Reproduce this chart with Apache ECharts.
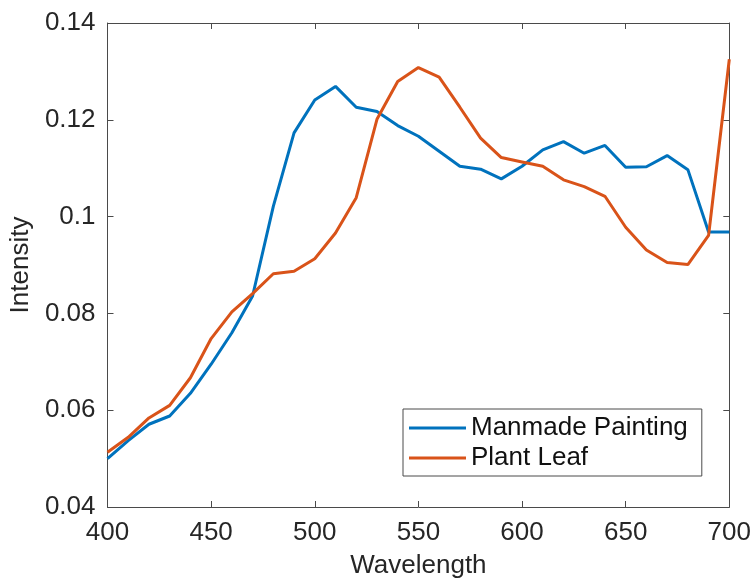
<!DOCTYPE html>
<html>
<head>
<meta charset="utf-8">
<script src="https://cdn.jsdelivr.net/npm/echarts@6/dist/echarts.min.js"></script>
<style>
html,body{margin:0;padding:0;background:#fff;}
#chart{width:754px;height:584px;}
</style>
</head>
<body>
<div id="chart"></div>
<script>
var wavelengths = [400,410,420,430,440,450,460,470,480,490,500,510,520,530,540,550,560,570,580,590,600,610,620,630,640,650,660,670,680,690,700];
var manmadePainting = [0.0500,0.0537,0.0571,0.0588,0.0635,0.0695,0.0760,0.0836,0.1021,0.1173,0.1241,0.1269,0.1226,0.1217,0.1188,0.1166,0.1135,0.1104,0.1098,0.1078,0.1104,0.1138,0.1155,0.1131,0.1147,0.1102,0.1103,0.1126,0.1097,0.0968,0.0968];
var plantLeaf = [0.0513,0.0544,0.0584,0.0610,0.0667,0.0748,0.0803,0.0841,0.0882,0.0887,0.0913,0.0966,0.1039,0.1201,0.1279,0.1308,0.1288,0.1226,0.1162,0.1122,0.1113,0.1104,0.1076,0.1062,0.1042,0.0978,0.0931,0.0905,0.0901,0.0961,0.1325];
var seriesNames = ['Manmade Painting','Plant Leaf'];
var xTicks = [400,450,500,550,600,650,700];
var yTicks = [0.04,0.06,0.08,0.1,0.12,0.14];

var FONT = '"Liberation Sans", Arial, Helvetica, sans-serif';
var TXT = '#262626';
var AX = '#4a4a4a';

function pairs(xs, ys){ return xs.map(function(x,i){ return [x, ys[i]]; }); }

var chart = echarts.init(document.getElementById('chart'), null, {renderer:'canvas'});
var axisCommon = {
  axisLine:{show:true, lineStyle:{color:AX, width:1}},
  axisTick:{show:true, inside:true, length:6, lineStyle:{color:AX, width:1}},
  splitLine:{show:false}
};
chart.setOption({
  animation:false,
  backgroundColor:'#fff',
  textStyle:{fontFamily:FONT},
  grid:{left:105, right:24, top:23, bottom:76, containLabel:false},
  legend:{
    data:seriesNames,
    orient:'vertical',
    left:403, top:409,
    backgroundColor:'#fff',
    borderColor:AX, borderWidth:1,
    padding:[6,14,5,6],
    itemWidth:57, itemHeight:3, itemGap:4,
    icon:'rect',
    textStyle:{fontFamily:FONT, fontSize:26, color:'#111', lineHeight:26, padding:[0,0,0,0]}
  },
  xAxis:[Object.assign({
    type:'value', min:400, max:700, interval:50, position:'bottom',
    name:'Wavelength', nameLocation:'middle', nameGap:46,
    nameTextStyle:{fontFamily:FONT, fontSize:26, color:TXT},
    axisLabel:{fontFamily:FONT, fontSize:26, color:TXT, margin:13,
      formatter:function(v){ return xTicks.indexOf(v)>=0 ? String(v) : ''; }}
  }, axisCommon),
  Object.assign({
    type:'value', min:400, max:700, interval:50, position:'top',
    axisLabel:{show:false}
  }, axisCommon)],
  yAxis:[Object.assign({
    type:'value', min:0.04, max:0.14, interval:0.02, position:'left',
    name:'Intensity', nameLocation:'middle', nameGap:69, nameRotate:90,
    nameTextStyle:{fontFamily:FONT, fontSize:26, color:TXT},
    axisLabel:{fontFamily:FONT, fontSize:26, color:TXT, margin:12,
      formatter:function(v){ return String(+v.toFixed(2)); }}
  }, axisCommon),
  Object.assign({
    type:'value', min:0.04, max:0.14, interval:0.02, position:'right',
    axisLabel:{show:false}
  }, axisCommon)],
  series:[
    {name:seriesNames[0], type:'line', data:pairs(wavelengths, manmadePainting),
     showSymbol:false, symbol:'none', lineStyle:{color:'#0072BD', width:3}, itemStyle:{color:'#0072BD'}, z:2},
    {name:seriesNames[1], type:'line', data:pairs(wavelengths, plantLeaf),
     showSymbol:false, symbol:'none', lineStyle:{color:'#D95319', width:3}, itemStyle:{color:'#D95319'}, z:3}
  ]
});
</script>
</body>
</html>
